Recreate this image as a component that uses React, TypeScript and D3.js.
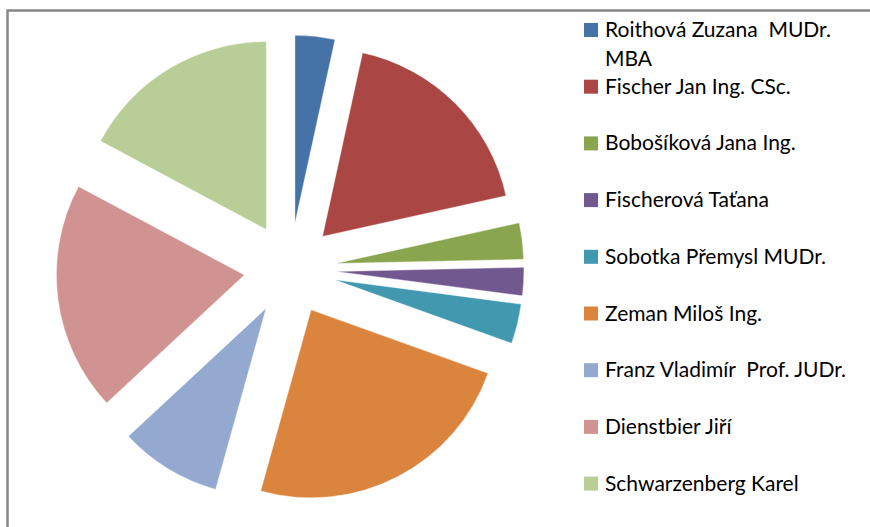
import React, { useRef, useEffect } from "react";
import * as d3 from "d3";

const candidates = [
  ["Roithová Zuzana  MUDr.", "MBA"],
  ["Fischer Jan Ing. CSc."],
  ["Bobošíková Jana Ing."],
  ["Fischerová Taťana"],
  ["Sobotka Přemysl MUDr."],
  ["Zeman Miloš Ing."],
  ["Franz Vladimír  Prof. JUDr."],
  ["Dienstbier Jiří"],
  ["Schwarzenberg Karel"],
];
const shares = [3.4, 18.0, 3.1, 2.4, 3.4, 23.7, 8.7, 19.6, 17.1];
const colors = [
  "#4572A7", "#AA4643", "#89A54E", "#71588F", "#4198AF",
  "#DB843D", "#93A9CF", "#D19392", "#B9CD96",
];

const App = () => {
  const svgRef = useRef<SVGSVGElement>(null);

  useEffect(() => {
    const width = 870;
    const height = 527;
    const cx = 290;
    const cy = 269;
    const radius = 188;
    const explode = 46;

    const svg = d3.select(svgRef.current);
    svg.selectAll("*").remove();
    svg.attr("width", width).attr("height", height);

    // chart frame (only top and left edges are visible)
    svg.append("rect")
      .attr("x", 7.5)
      .attr("y", 10.5)
      .attr("width", width)
      .attr("height", height)
      .attr("fill", "white")
      .attr("stroke", "#878787")
      .attr("stroke-width", 2.5);

    const pie = d3.pie<number>().value(d => d).sort(null);
    const arc = d3.arc<d3.PieArcDatum<number>>().innerRadius(0).outerRadius(radius);

    const g = svg.append("g").attr("transform", `translate(${cx},${cy})`);

    g.selectAll("path")
      .data(pie(shares))
      .enter()
      .append("path")
      .attr("transform", d => {
        const mid = (d.startAngle + d.endAngle) / 2;
        return `translate(${Math.sin(mid) * explode},${-Math.cos(mid) * explode})`;
      })
      .attr("d", arc)
      .attr("fill", (d, i) => colors[i])
      .attr("stroke", "#ffffff")
      .attr("stroke-opacity", 0.5)
      .attr("stroke-width", 0.8);

    // legend
    const legend = svg.append("g").attr("font-family", "Lato, 'Open Sans', sans-serif").attr("font-size", 21);
    const items = legend.selectAll("g")
      .data(candidates)
      .enter()
      .append("g")
      .attr("transform", (d, i) => `translate(0,${37 + i * 56.7})`);

    items.append("rect")
      .attr("x", 584)
      .attr("y", -14)
      .attr("width", 14)
      .attr("height", 14)
      .attr("fill", (d, i) => colors[i]);

    items.append("text")
      .attr("fill", "#000")
      .selectAll("tspan")
      .data(d => d)
      .enter()
      .append("tspan")
      .attr("x", 605)
      .attr("y", (d, i) => i * 29)
      .attr("xml:space", "preserve")
      .style("white-space", "pre")
      .text(d => d);
  }, []);

  return <svg ref={svgRef} style={{ position: "absolute", left: 0, top: 0, display: "block" }}></svg>;
};

export default App;
